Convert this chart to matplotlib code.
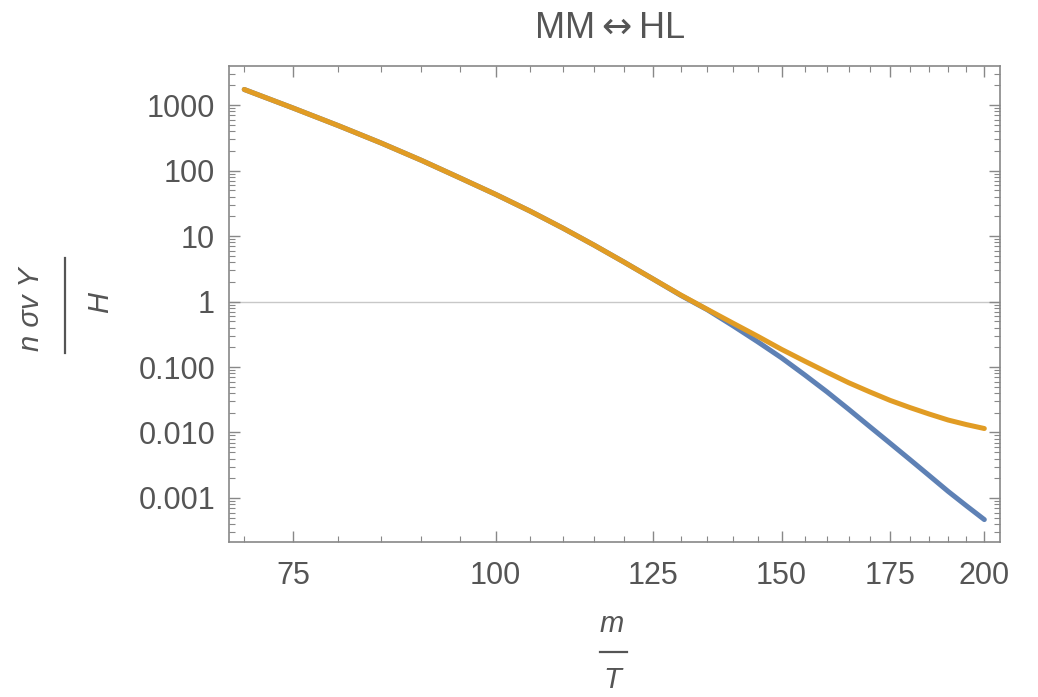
import matplotlib
matplotlib.use("Agg")
import matplotlib.pyplot as plt
from matplotlib.lines import Line2D
from matplotlib.ticker import FixedLocator, FixedFormatter, NullFormatter, LogLocator

# values (x = m/T, y = n sigma v Y / H)
x_vals = [70, 75, 80, 85, 90, 95, 100, 105, 110, 115, 120, 125, 130, 135,
          140, 145, 150, 155, 160, 165, 170, 175, 180, 185, 190, 195, 200]
y_blue = [1726, 902, 484, 263, 143, 77.6, 43.2, 24.0, 13.2, 7.24, 3.98, 2.21,
          1.245, 0.750, 0.427, 0.243, 0.138, 0.0759, 0.0417, 0.0226, 0.0123,
          0.00684, 0.00385, 0.00219, 0.00126, 0.000759, 0.000468]
y_orange = [1726, 902, 484, 263, 143, 77.6, 43.2, 24.0, 13.2, 7.24, 3.98, 2.21,
            1.26, 0.759, 0.468, 0.295, 0.186, 0.123, 0.0832, 0.0575, 0.0417,
            0.0309, 0.0240, 0.0191, 0.0155, 0.0132, 0.0115]

x_ticks = [75, 100, 125, 150, 175, 200]
x_minor = [70, 80, 85, 90, 95, 105, 110, 115, 120, 130, 135, 140, 145, 155,
           160, 165, 170, 180, 185, 190, 195]
y_ticks = [1000, 100, 10, 1, 0.1, 0.01, 0.001]
y_labels = ["1000", "100", "10", "1", "0.100", "0.010", "0.001"]

title = r"MM$\leftrightarrow$HL"

BLUE = "#5e81b5"
ORANGE = "#e19c24"
GRAY = "#555555"
FRAME = "#888888"

plt.rcParams["font.family"] = ["Liberation Sans", "DejaVu Sans"]
plt.rcParams["mathtext.fontset"] = "dejavusans"

W, H = 1038, 697
fig = plt.figure(figsize=(W / 100, H / 100), dpi=100)
ax = fig.add_axes([0.2206, 0.2224, 0.7428, 0.6829])

ax.plot(x_vals, y_blue, color=BLUE, lw=3.6, solid_capstyle="round", zorder=3)
ax.plot(x_vals, y_orange, color=ORANGE, lw=3.6, solid_capstyle="round", zorder=4)
ax.axhline(1, color="#c8c8c8", lw=1.0, zorder=1)

ax.set_xscale("log")
ax.set_yscale("log")
ax.set_xlim(68.5, 204.5)
ax.set_ylim(2.13e-4, 3940)

ax.xaxis.set_major_locator(FixedLocator(x_ticks))
ax.xaxis.set_major_formatter(FixedFormatter([str(t) for t in x_ticks]))
ax.xaxis.set_minor_locator(FixedLocator(x_minor))
ax.xaxis.set_minor_formatter(NullFormatter())

ax.yaxis.set_major_locator(FixedLocator(y_ticks))
ax.yaxis.set_major_formatter(FixedFormatter(y_labels))
ax.yaxis.set_minor_locator(LogLocator(base=10, subs=range(2, 10), numticks=20))
ax.yaxis.set_minor_formatter(NullFormatter())

for side in ax.spines.values():
    side.set_color(FRAME)
    side.set_linewidth(1.2)

ax.tick_params(which="both", direction="in", top=True, right=True,
               color=FRAME, labelcolor=GRAY, labelsize=22, pad=10)
ax.tick_params(which="major", length=8, width=1.0)
ax.tick_params(which="minor", length=4, width=0.8)
ax.tick_params(axis="x", which="major", pad=14)


def px(x, y):
    # pixel position (from top-left) -> figure fraction
    return x / W, 1 - y / H


fig.text(*px(610, 29), title, color=GRAY, fontsize=26, ha="center", va="center")

# y label: stacked fraction, rotated
fig.text(*px(31, 309), "n σv Y", rotation=90, style="italic", color=GRAY,
         fontsize=21, ha="center", va="center")
fig.add_artist(Line2D([65 / W, 65 / W], [1 - 258 / H, 1 - 353 / H],
                      transform=fig.transFigure, color=GRAY, lw=1.6))
fig.text(*px(100, 302), "H", rotation=90, style="italic", color=GRAY,
         fontsize=21, ha="center", va="center")

# x label: stacked fraction
fig.text(*px(612, 624), "m", style="italic", color=GRAY,
         fontsize=21, ha="center", va="center")
fig.add_artist(Line2D([600 / W, 627 / W], [1 - 652 / H, 1 - 652 / H],
                      transform=fig.transFigure, color=GRAY, lw=1.6))
fig.text(*px(612, 680), "T", style="italic", color=GRAY,
         fontsize=21, ha="center", va="center")

fig.savefig("out.png", dpi=100)
